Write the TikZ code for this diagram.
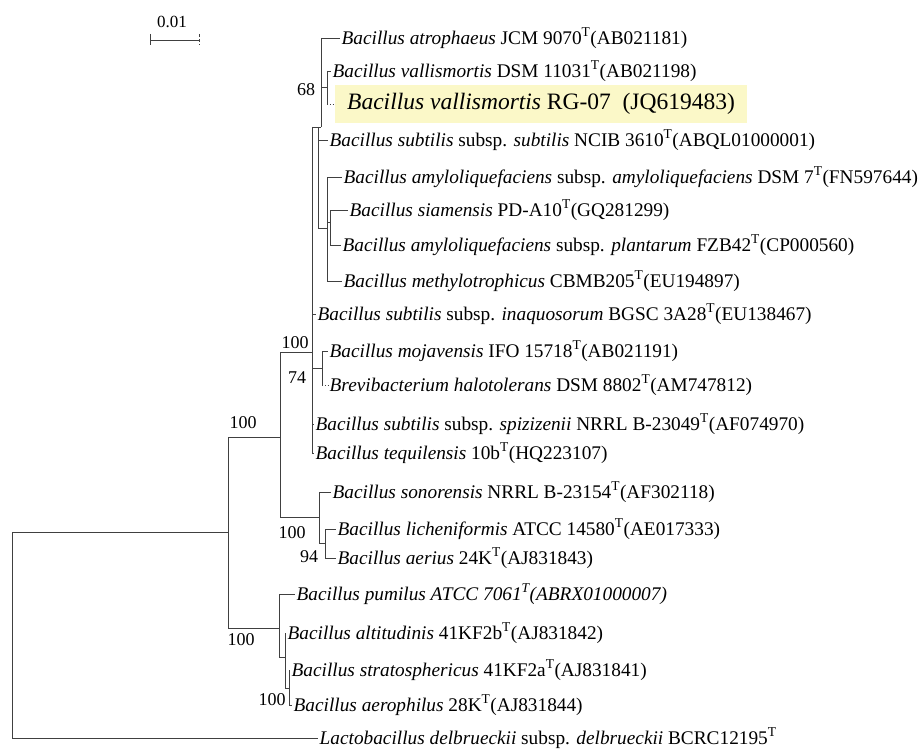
\documentclass[tikz,border=0pt]{standalone}
\usepackage{fontspec}
\setmainfont{Liberation Serif}
\usetikzlibrary{calc}
\definecolor{hlyellow}{HTML}{FBF8C8}
\newcommand{\sT}{\textsuperscript{T}}

\begin{document}
\begin{tikzpicture}[x=1pt,y=-1pt,
    leaf/.style={anchor=west,inner xsep=1.5pt,inner ysep=1pt,font=\fontsize{19.3}{21}\selectfont},
    branch/.style={line width=0.8pt,draw=black!75},
    boot/.style={inner sep=0pt,font=\fontsize{18}{20}\selectfont}]
  \useasboundingbox (0,0) rectangle (921,749);

  % taxa
  \node[leaf] (atro) at (340,38) {\textit{Bacillus atrophaeus} JCM 9070\sT(AB021181)};
  \node[leaf] (valdsm) at (331,71) {\textit{Bacillus vallismortis} DSM 11031\sT(AB021198)};
  \node[leaf,fill=hlyellow,inner xsep=12pt,minimum height=38pt,font=\fontsize{23.5}{25}\selectfont] (rg) at (335,104) {\textit{Bacillus vallismortis} RG-07~~(JQ619483)};
  \node[leaf] (subsub) at (328,140) {\textit{Bacillus subtilis} subsp. \textit{subtilis} NCIB 3610\sT(ABQL01000001)};
  \node[leaf] (amam) at (342,177) {\textit{Bacillus amyloliquefaciens} subsp. \textit{amyloliquefaciens} DSM 7\sT(FN597644)};
  \node[leaf] (siam) at (348,210) {\textit{Bacillus siamensis} PD-A10\sT(GQ281299)};
  \node[leaf] (plant) at (341,245) {\textit{Bacillus amyloliquefaciens} subsp. \textit{plantarum} FZB42\sT(CP000560)};
  \node[leaf] (methylo) at (342,281) {\textit{Bacillus methylotrophicus} CBMB205\sT(EU194897)};
  \node[leaf] (inaq) at (316,314) {\textit{Bacillus subtilis} subsp. \textit{inaquosorum} BGSC 3A28\sT(EU138467)};
  \node[leaf] (moj) at (328,351) {\textit{Bacillus mojavensis} IFO 15718\sT(AB021191)};
  \node[leaf] (brevi) at (328,385) {\textit{Brevibacterium halotolerans} DSM 8802\sT(AM747812)};
  \node[leaf] (spiz) at (314,424) {\textit{Bacillus subtilis} subsp. \textit{spizizenii} NRRL B-23049\sT(AF074970)};
  \node[leaf] (teq) at (314,453) {\textit{Bacillus tequilensis} 10b\sT(HQ223107)};
  \node[leaf] (son) at (331,492) {\textit{Bacillus sonorensis} NRRL B-23154\sT(AF302118)};
  \node[leaf] (lich) at (336,529) {\textit{Bacillus licheniformis} ATCC 14580\sT(AE017333)};
  \node[leaf] (aer) at (336,558) {\textit{Bacillus aerius} 24K\sT(AJ831843)};
  \node[leaf] (pum) at (295,594) {\textit{Bacillus pumilus ATCC 7061\textsuperscript{T}(ABRX01000007)}};
  \node[leaf] (alt) at (286,633) {\textit{Bacillus altitudinis} 41KF2b\sT(AJ831842)};
  \node[leaf] (strat) at (290,670) {\textit{Bacillus stratosphericus} 41KF2a\sT(AJ831841)};
  \node[leaf] (aeroph) at (292,705) {\textit{Bacillus aerophilus} 28K\sT(AJ831844)};
  \node[leaf] (lacto) at (318,738) {\textit{Lactobacillus delbrueckii} subsp. \textit{delbrueckii} BCRC12195\sT};

  % inner nodes: top and bottom of each vertical
  \coordinate (tR0) at (12,532);  \coordinate (bR0) at (12,738);
  \coordinate (tN1) at (228,437); \coordinate (bN1) at (228,628);
  \coordinate (tN2) at (280,352); \coordinate (bN2) at (280,517);
  \coordinate (tS) at (312,127);  \coordinate (bS) at (312,453);
  \coordinate (tU) at (318,127);  \coordinate (bU) at (318,228);
  \coordinate (tV) at (321,38);   \coordinate (bV) at (321,127);
  \coordinate (tW) at (327,71);   \coordinate (bW) at (327,104);
  \coordinate (tX) at (327,177);  \coordinate (bX) at (327,281);
  \coordinate (tY) at (330,210);  \coordinate (bY) at (330,245);
  \coordinate (tM) at (322,351);  \coordinate (bM) at (322,385);
  \coordinate (tL) at (319,492);  \coordinate (bL) at (319,543);
  \coordinate (tLL) at (325,529); \coordinate (bLL) at (325,558);
  \coordinate (tP) at (279,594);  \coordinate (bP) at (279,657);
  \coordinate (tQ) at (285,633);  \coordinate (bQ) at (285,688);
  \coordinate (tR) at (289,670);  \coordinate (bR) at (289,705);
  \coordinate (mW) at ($(tW)!.5!(bW)$);
  \coordinate (mY) at (330,222);
  \coordinate (mM) at ($(tM)!.5!(bM)$);

  \foreach \n in {R0,N1,N2,S,U,V,W,X,Y,M,L,LL,P,Q,R}
    \draw[branch] (t\n) -- (b\n);

  % horizontal branches
  \draw[branch] (tR0) -- (tR0 -| tN1);
  \draw[branch] (bR0) -- (lacto.west);
  \draw[branch] (tN1) -- (tN1 -| tN2);
  \draw[branch] (bN1) -- (bN1 -| tP);
  \draw[branch] (tN2) -- (tN2 -| tS);
  \draw[branch] (bN2) -- (bN2 -| tL);
  \draw[branch] (tS) -- (tU);
  \draw[branch] (tU) -- (bV);
  \draw[branch] (tU |- subsub) -- (subsub.west);
  \draw[branch] (bU) -- (bU -| tX);
  \draw[branch] (tV) -- (atro.west);
  \draw[branch] (mW -| tV) -- (mW);
  \draw[branch] (tW) -- (valdsm.west);
  \draw[branch,dotted] (bW) -- (rg.west);
  \draw[branch] (tX) -- (amam.west);
  \draw[branch] (bX) -- (methylo.west);
  \draw[branch] (mY -| tX) -- (mY);
  \draw[branch] (tY) -- (siam.west);
  \draw[branch] (bY) -- (plant.west);
  \draw[branch] (tS |- inaq) -- (inaq.west);
  \draw[branch] (mM -| tS) -- (mM);
  \draw[branch] (tS |- spiz) -- (spiz.west);
  \draw[branch] (bS) -- (teq.west);
  \draw[branch] (tM) -- (moj.west);
  \draw[branch,dotted] (bM) -- (brevi.west);
  \draw[branch] (tL) -- (son.west);
  \draw[branch] (bL) -- (bL -| tLL);
  \draw[branch] (tLL) -- (lich.west);
  \draw[branch] (bLL) -- (aer.west);
  \draw[branch] (tP) -- (pum.west);
  \draw[branch] (bP) -- (bP -| tQ);
  \draw[branch] (tQ) -- (alt.west);
  \draw[branch] (bQ) -- (bQ -| tR);
  \draw[branch] (tR) -- (strat.west);
  \draw[branch] (bR) -- (aeroph.west);

  % bootstrap values
  \node[boot] (bs68) at (306,90) {68};
  \node[boot] (bsS) at (295,343) {100};
  \node[boot] (bsM) at (297,378) {74};
  \node[boot] (bsN2) at (243,423) {100};
  \node[boot] (bsL) at (292,533) {100};
  \node[boot] (bsLL) at (309,557) {94};
  \node[boot] (bsP) at (241,640) {100};
  \node[boot] (bsR) at (272,700) {100};

  % scale bar
  \coordinate (sbl) at (150,40);
  \coordinate (sbr) at (199,40);
  \draw[branch] (sbl) -- (sbr);
  \draw[branch] ($(sbl)+(0,-6)$) -- ($(sbl)+(0,5)$);
  \draw[branch,densely dashed] ($(sbr)+(0,-6)$) -- ($(sbr)+(0,5)$);
  \node[inner sep=0pt,font=\fontsize{17}{19}\selectfont] (sblab) at (172,22) {0.01};
\end{tikzpicture}
\end{document}
